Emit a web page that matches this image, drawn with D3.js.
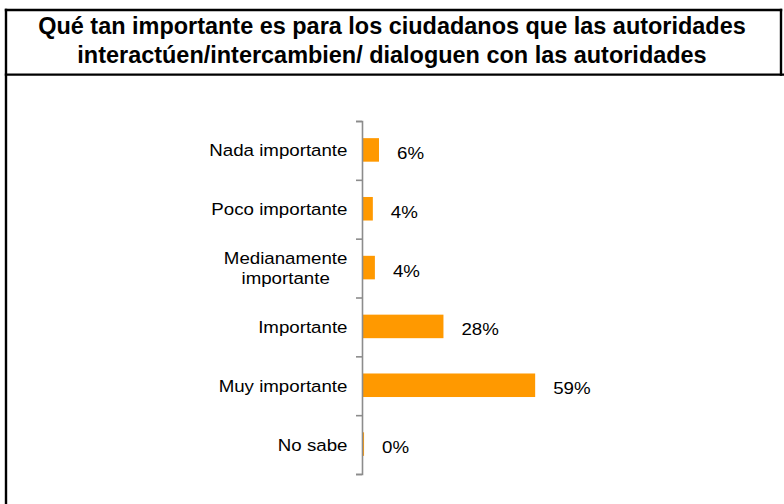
<!DOCTYPE html>
<html>
<head>
<meta charset="utf-8">
<script src="https://cdn.jsdelivr.net/npm/d3@7"></script>
<style>
  html, body { margin: 0; padding: 0; background: #fff; }
  svg { display: block; }
  text { font-family: "Liberation Sans", Arial, sans-serif; fill: #000; }
</style>
</head>
<body>
<svg id="chart" width="784" height="504"></svg>
<script>
// ---- data ----
const titleLines = [
  "Qué tan importante es para los ciudadanos que las autoridades",
  "interactúen/intercambien/ dialoguen con las autoridades"
];
const categories = [
  ["Nada importante"],
  ["Poco importante"],
  ["Medianamente", "importante"],
  ["Importante"],
  ["Muy importante"],
  ["No sabe"]
];
const values = [5.8, 3.7, 4.4, 27.8, 59.1, 0.7];
const valueLabels = ["6%", "4%", "4%", "28%", "59%", "0%"];

// ---- layout ----
const W = 784, H = 504;
const SX = 1.1;                // horizontal text stretch of the original picture
const axisX = 362, plotTop = 121, plotBottom = 474;
const orange = "#FF9900";

const svg = d3.select("#chart");

// frame
const frame = svg.append("g").attr("stroke", "#000").attr("stroke-width", 2.4).attr("fill", "none");
frame.append("line").attr("x1", 6).attr("x2", 6).attr("y1", 8.8).attr("y2", H);
frame.append("line").attr("x1", 4.8).attr("x2", 782.2).attr("y1", 10).attr("y2", 10);
frame.append("line").attr("x1", 781).attr("x2", 781).attr("y1", 8.8).attr("y2", 75.8);
frame.append("line").attr("x1", 4.8).attr("x2", W).attr("y1", 74.6).attr("y2", 74.6);

// title
titleLines.forEach((t, i) => {
  svg.append("text")
    .attr("transform", `translate(392,${34 + i * 29}) scale(1.02,1)`)
    .attr("text-anchor", "middle")
    .attr("font-size", 23)
    .attr("font-weight", "bold")
    .text(t);
});

// scales
const idx = d3.range(categories.length);
const y = d3.scaleBand().domain(idx).range([plotTop, plotBottom]).padding(0);
const yTicks = d3.scaleLinear().domain([0, categories.length]).range([plotTop, plotBottom]);
const x = d3.scaleLinear().domain([0, 100]).range([axisX, axisX + 293]);
const barH = y.bandwidth() * 0.4;

// bars
svg.append("g").selectAll("rect").data(values).join("rect")
  .attr("x", x(0))
  .attr("y", (d, i) => y(i) + y.bandwidth() / 2 - barH / 2 - 0.5)
  .attr("width", d => x(d) - x(0))
  .attr("height", barH)
  .attr("fill", orange);

// axis
const axis = d3.axisLeft(yTicks).tickValues(d3.range(categories.length + 1)).tickSize(6).tickFormat("");
const ag = svg.append("g").attr("transform", `translate(${axisX},0)`).call(axis);
ag.select(".domain").attr("stroke", "#8c8c8c").attr("stroke-width", 1.6);
ag.selectAll(".tick line").attr("stroke", "#8c8c8c").attr("stroke-width", 1.6);

// category labels (right-aligned block, lines centred within block)
const labelRight = 347.5;
categories.forEach((lines, i) => {
  const cy = y(i) + y.bandwidth() / 2;
  const lh = 20;
  const g = svg.append("g");
  const texts = lines.map(t => g.append("text").attr("font-size", 17).text(t));
  const maxW = d3.max(texts, tx => tx.node().getComputedTextLength()) * SX;
  texts.forEach((tx, k) => {
    const by = cy + 6 + (k - (lines.length - 1) / 2) * lh;
    tx.attr("text-anchor", "middle")
      .attr("transform", `translate(${labelRight - maxW / 2},${by}) scale(${SX},1)`);
  });
});

// value labels
svg.append("g").selectAll("text").data(values).join("text")
  .attr("font-size", 17)
  .attr("transform", (d, i) => `translate(${x(d) + 18},${y(i) + y.bandwidth() / 2 + 8.5}) scale(${SX},1)`)
  .text((d, i) => valueLabels[i]);
</script>
</body>
</html>
